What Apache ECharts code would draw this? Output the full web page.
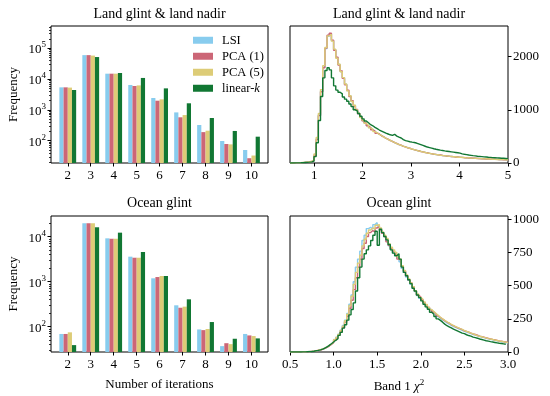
<!DOCTYPE html>
<html><head><meta charset="utf-8">
<script src="https://cdn.jsdelivr.net/npm/echarts@6/dist/echarts.min.js"></script>
<style>html,body{margin:0;padding:0;background:#fff}#c{width:550px;height:396px}</style>
</head><body><div id="c"></div>
<script>
// ---------- DATA ----------
const iterations = [2, 3, 4, 5, 6, 7, 8, 9, 10];
const methodNames = ['LSI', 'PCA (1)', 'PCA (5)', 'linear-k'];

// Land glint & land nadir: frequency per number of iterations
const landLSI    = [5400, 60000, 15000, 6450, 2430, 830, 323, 98, 50];
const landPCA1   = [5400, 60000, 15000, 5970, 1990, 575, 190, 78, 27];
const landPCA5   = [5300, 58000, 15000, 6250, 2200, 680, 211, 76, 33];
const landLinK   = [4430, 52000, 15800, 10900, 5000, 1640, 545, 207, 135];

// Ocean glint: frequency per number of iterations
const oceanLSI   = [69, 19800, 9200, 3600, 1190, 299, 87, 37, 69];
const oceanPCA1  = [69, 19800, 9000, 3410, 1270, 264, 84, 43, 64];
const oceanPCA5  = [75, 19800, 9000, 3410, 1340, 279, 89, 41, 62];
const oceanLinK  = [39, 16200, 12300, 4570, 1340, 406, 127, 54, 55];

// Band 1 chi^2 histograms (land): 100 bins, width 0.045, from 0.5
const landHistStart = 0.5, landHistWidth = 0.045;
const landHistLSI = [0,1,2,3,5,8,12,16,22,30,45,150,450,900,1350,1800,2150,2380,2430,2300,2130,1980,1850,1720,1600,1480,1360,1260,1160,1080,1000,930,860,800,750,705,665,630,595,565,540,515,490,467,445,425,405,385,365,348,332,316,302,288,275,262,250,239,228,218,208,199,190,182,174,167,160,154,148,142,137,132,127,123,119,115,111,108,105,102,99,96,93,91,88,86,84,82,80,78,76,74,72,70,68,67,65,64,62,61];
const landHistPCA1 = [0,1,2,3,4,8,11,17,21,31,44,140,440,890,1340,1790,2160,2400,2440,2310,2120,1990,1840,1730,1590,1470,1370,1250,1170,1070,1005,925,865,795,755,700,668,625,598,560,545,512,493,463,448,422,408,382,368,345,335,313,305,285,278,260,252,237,230,216,210,197,192,180,176,165,162,152,150,140,139,130,129,121,120,113,112,106,106,100,100,94,94,89,89,84,85,80,81,76,77,72,73,68,69,65,66,62,63,59];
const landHistPCA5 = [0,1,2,3,5,9,13,17,23,32,50,170,480,930,1380,1830,2170,2390,2420,2290,2140,1970,1855,1715,1605,1485,1355,1265,1155,1085,995,935,855,805,745,710,660,635,590,568,536,518,487,470,442,428,402,388,362,350,330,318,300,290,273,264,248,241,226,220,206,201,188,184,172,169,158,156,146,144,135,134,125,125,117,117,109,110,103,104,97,98,91,92,86,87,82,83,78,79,74,75,70,71,67,68,64,65,61,62];
const landHistLinK = [0,1,2,3,4,6,9,12,16,22,35,120,380,800,1250,1600,1740,1790,1750,1600,1450,1370,1330,1300,1240,1200,1160,1110,1060,1000,975,930,880,830,790,755,720,700,670,645,620,600,580,560,545,530,520,540,505,485,470,440,420,410,400,392,385,375,360,345,330,315,300,290,280,268,258,250,242,235,228,222,216,210,204,198,192,185,172,164,158,150,144,138,133,128,124,120,116,112,108,105,102,99,96,93,90,88,85,82];

// Band 1 chi^2 histograms (ocean): 100 bins, width 0.025, from 0.5
const oceanHistStart = 0.5, oceanHistWidth = 0.025;
const oceanHistLSI = [0,0,0,0,1,1,2,3,4,5,7,9,12,16,22,28,38,46,60,72,95,112,135,165,200,240,290,360,430,530,640,700,760,840,880,930,940,925,960,975,950,930,900,870,840,800,775,750,740,715,680,630,600,565,540,510,480,455,425,405,390,370,350,330,315,300,285,268,255,242,232,220,210,200,192,185,178,170,163,156,150,144,138,132,127,122,117,112,108,103,99,95,91,88,84,80,77,74,71,68];
const oceanHistPCA1 = [0,0,0,0,1,1,2,2,3,5,6,9,12,15,20,27,35,45,57,70,88,105,128,155,185,225,270,330,390,470,560,640,700,780,820,870,900,915,905,935,945,920,895,870,830,805,780,760,735,700,690,645,610,575,545,520,490,460,430,415,395,372,355,335,318,302,288,272,260,248,236,226,218,205,198,190,182,176,168,160,155,150,143,136,132,126,120,116,112,107,103,99,95,92,88,84,81,78,75,72];
const oceanHistPCA5 = [0,0,0,0,1,1,2,3,4,5,7,9,13,17,23,30,38,48,60,74,92,110,133,162,195,235,285,350,420,510,600,670,730,800,850,895,920,935,925,955,960,935,905,880,855,815,790,770,750,720,700,650,615,580,550,520,492,462,438,412,398,378,358,338,320,305,290,276,262,250,238,228,218,208,199,192,184,176,170,162,155,149,142,136,130,124,119,115,110,106,101,98,94,90,87,83,80,77,74,71];
const oceanHistLinK = [0,0,0,0,0,1,1,2,3,4,6,9,12,16,22,30,38,50,62,75,88,100,125,148,180,205,240,280,320,370,460,560,640,700,740,770,800,840,880,910,805,925,900,870,845,810,770,745,725,740,700,640,600,575,545,515,480,460,430,410,385,360,340,322,300,285,268,250,238,225,210,198,190,182,172,165,158,150,142,138,130,124,120,112,108,104,98,94,90,85,82,78,75,72,69,66,64,61,58];

// Axis tick values
const landLogTicks = [2, 3, 4, 5];
const oceanLogTicks = [2, 3, 4];
const landHistYTicks = [0, 1000, 2000];
const oceanHistYTicks = [0, 250, 500, 750, 1000];
const landHistXTicks = [1, 2, 3, 4, 5];
const oceanHistXTicks = [0.5, 1.0, 1.5, 2.0, 2.5, 3.0];

// ---------- STYLE ----------
const colors = ['#88CCEE', '#CC6677', '#DDCC77', '#117733'];
const FONT = 'Liberation Serif';
const TICK_FS = 13;

function minorLogTicks(lo, hi) {
  const out = [];
  for (let n = 0; n <= 6; n++) for (let k = 2; k <= 9; k++) {
    const v = Math.log10(k) + n;
    if (v >= lo && v <= hi) out.push(v);
  }
  return out;
}
const logFmt = v => '{b|10}{s|' + Math.round(v) + '}';
const logRich = {
  b: { fontSize: TICK_FS, fontFamily: FONT, color: '#000', lineHeight: 16, verticalAlign: 'bottom' },
  s: { fontSize: 9, fontFamily: FONT, color: '#000', lineHeight: 16, verticalAlign: 'top' }
};

const chart = echarts.init(document.getElementById('c'), null, { renderer: 'canvas' });

const grids = [
  { left: 51, top: 26, width: 217, height: 137 },
  { left: 51, top: 216, width: 217, height: 136 },
  { left: 290, top: 26, width: 218, height: 137 },
  { left: 290, top: 216, width: 218, height: 136 }
].map(g => Object.assign(g, { show: true, borderColor: '#000', borderWidth: 1, backgroundColor: 'transparent', containLabel: false }));

function baseX(gridIndex, min, max, ticks, fmt, name) {
  return {
    type: 'value', gridIndex, min, max,
    axisLine: { show: false },
    axisTick: { show: true, customValues: ticks, length: 3.5, lineStyle: { color: '#000', width: 1 } },
    axisLabel: { customValues: ticks, color: '#000', fontFamily: FONT, fontSize: TICK_FS, margin: 6, formatter: fmt },
    splitLine: { show: false },
    name: name || '', nameLocation: 'middle', nameGap: 26,
    nameTextStyle: { color: '#000', fontFamily: FONT, fontSize: 13, rich: {
      n: { fontSize: 13, fontFamily: FONT, color: '#000', lineHeight: 15, verticalAlign: 'bottom' },
      c: { fontSize: 13, fontFamily: FONT, fontStyle: 'italic', color: '#000', lineHeight: 15, verticalAlign: 'bottom' },
      s: { fontSize: 9, fontFamily: FONT, color: '#000', lineHeight: 15, verticalAlign: 'top' }
    } }
  };
}

const xAxes = [
  baseX(0, 1.27, 10.72, iterations, v => String(v)),
  baseX(1, 1.27, 10.72, iterations, v => String(v), 'Number of iterations'),
  baseX(2, 0.5, 5, landHistXTicks, v => String(v)),
  baseX(3, 0.5, 3, oceanHistXTicks, v => v.toFixed(1), '{n|Band 1 }{c|χ}{s|2}')
];

function logY(gridIndex, min, max, ticks) {
  return [{
    type: 'value', gridIndex, min, max, position: 'left',
    axisLine: { show: false },
    axisTick: { show: true, customValues: ticks, length: 3.5, lineStyle: { color: '#000' } },
    axisLabel: { customValues: ticks, formatter: logFmt, rich: logRich, margin: 5 },
    splitLine: { show: false },
    name: 'Frequency', nameLocation: 'middle', nameGap: 31, nameRotate: 90,
    nameTextStyle: { color: '#000', fontFamily: FONT, fontSize: 13 }
  }, {
    type: 'value', gridIndex, min, max, position: 'left',
    axisLine: { show: false },
    axisTick: { show: true, customValues: minorLogTicks(min, max), length: 2, lineStyle: { color: '#000', width: 0.8 } },
    axisLabel: { show: false },
    splitLine: { show: false }
  }];
}
function linY(gridIndex, min, max, ticks) {
  return {
    type: 'value', gridIndex, min, max, position: 'right',
    axisLine: { show: false },
    axisTick: { show: true, customValues: ticks, length: 3.5, lineStyle: { color: '#000' } },
    axisLabel: { customValues: ticks, color: '#000', fontFamily: FONT, fontSize: TICK_FS, margin: 5, formatter: v => String(v) },
    splitLine: { show: false }
  };
}
const yAxes = [
  ...logY(0, 1.276, 5.724, landLogTicks),
  ...logY(1, 1.438, 4.46, oceanLogTicks),
  linY(2, 0, 2575, landHistYTicks),
  linY(3, 0, 1025, oceanHistYTicks)
];

const series = [];
const landBars = [landLSI, landPCA1, landPCA5, landLinK];
const oceanBars = [oceanLSI, oceanPCA1, oceanPCA5, oceanLinK];
function barSeries(name, vals, xi, yi, color) {
  return {
    type: 'bar', name, xAxisIndex: xi, yAxisIndex: yi, clip: true,
    barWidth: 4.2, barGap: '0%',
    itemStyle: { color },
    data: iterations.map((x, i) => [x, Math.log10(vals[i])])
  };
}
landBars.forEach((v, k) => series.push(barSeries(methodNames[k], v, 0, 0, colors[k])));
oceanBars.forEach((v, k) => series.push(barSeries(methodNames[k], v, 1, 2, colors[k])));

function stepSeries(name, counts, start, width, xi, yi, color, z) {
  const data = counts.map((c, i) => [+(start + i * width).toFixed(4), c]);
  data.push([+(start + counts.length * width).toFixed(4), counts[counts.length - 1]]);
  return {
    type: 'line', name, xAxisIndex: xi, yAxisIndex: yi, step: 'end',
    showSymbol: false, symbol: 'none', clip: true, z,
    lineStyle: { color, width: 1.4 },
    data
  };
}
const landHists = [landHistLSI, landHistPCA1, landHistPCA5, landHistLinK];
const oceanHists = [oceanHistLSI, oceanHistPCA1, oceanHistPCA5, oceanHistLinK];
landHists.forEach((c, k) => series.push(stepSeries('land-' + methodNames[k], c, landHistStart, landHistWidth, 2, 4, colors[k], 2 + k)));
oceanHists.forEach((c, k) => series.push(stepSeries('ocean-' + methodNames[k], c, oceanHistStart, oceanHistWidth, 3, 5, colors[k], 2 + k)));

const titleStyle = { color: '#000', fontFamily: FONT, fontSize: 14, fontWeight: 'normal' };
chart.setOption({
  animation: false,
  backgroundColor: '#fff',
  textStyle: { fontFamily: FONT },
  title: [
    { text: 'Land glint & land nadir', left: 159.5, top: 7, textAlign: 'center', padding: 0, textStyle: titleStyle },
    { text: 'Land glint & land nadir', left: 399, top: 7, textAlign: 'center', padding: 0, textStyle: titleStyle },
    { text: 'Ocean glint', left: 159.5, top: 196, textAlign: 'center', padding: 0, textStyle: titleStyle },
    { text: 'Ocean glint', left: 399, top: 196, textAlign: 'center', padding: 0, textStyle: titleStyle }
  ],
  legend: {
    data: methodNames, orient: 'vertical', left: 193, top: 33, padding: 0,
    itemWidth: 20, itemHeight: 7, itemGap: 1.5, icon: 'rect', selectedMode: false,
    formatter: n => n === 'linear-k' ? 'linear-{i|k}' : n,
    textStyle: { color: '#000', fontFamily: FONT, fontSize: 12.5, lineHeight: 14.5, padding: [0, 0, 0, 4],
      rich: { i: { fontStyle: 'italic', fontFamily: FONT, fontSize: 12.5, color: '#000' } } }
  },
  grid: grids,
  xAxis: xAxes,
  yAxis: yAxes,
  series
});
</script></body></html>
